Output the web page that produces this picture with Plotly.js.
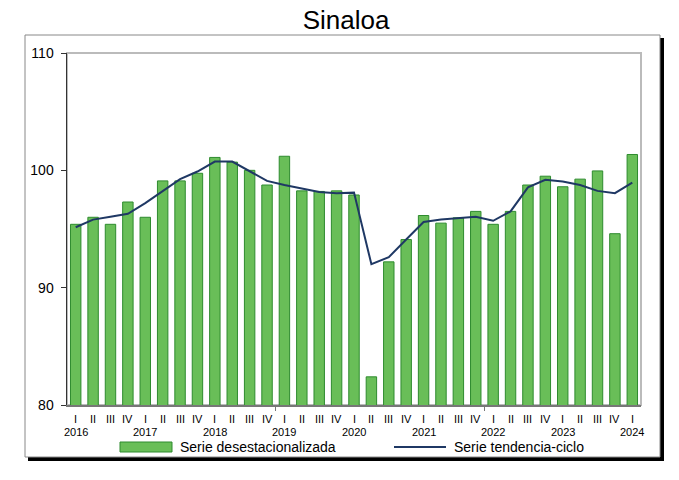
<!DOCTYPE html>
<html>
<head>
<meta charset="utf-8">
<script src="https://cdn.plot.ly/plotly-3.0.1.min.js"></script>
<style>
  html, body { margin: 0; padding: 0; background: #fff; }
  #chart { width: 679px; height: 480px; }
</style>
</head>
<body>
<div id="chart"></div>
<script>
// quarters 2016 I .. 2024 I
var quarters = ["I", "II", "III", "IV", "I", "II", "III", "IV", "I", "II", "III", "IV",
  "I", "II", "III", "IV", "I", "II", "III", "IV", "I", "II", "III", "IV",
  "I", "II", "III", "IV", "I", "II", "III", "IV", "I"];
var years = ["2016", "2017", "2018", "2019", "2020", "2021", "2022", "2023", "2024"];

var desest = [95.4, 96.0, 95.4, 97.3, 96.0, 99.1, 99.1, 99.75, 101.1, 100.7, 100.0, 98.75,
  101.2, 98.25, 98.2, 98.25, 97.9, 82.4, 92.2, 94.1, 96.15, 95.5, 95.95, 96.5,
  95.4, 96.5, 98.75, 99.5, 98.6, 99.25, 99.95, 94.6, 101.35];
var tendencia = [95.15, 95.8, 96.05, 96.3, 97.2, 98.2, 99.25, 99.9, 100.75, 100.75, 99.9, 99.1,
  98.75, 98.45, 98.15, 98.05, 98.1, 92.0, 92.6, 94.1, 95.6, 95.8, 95.95, 96.05,
  95.7, 96.5, 98.55, 99.2, 99.05, 98.75, 98.25, 98.05, 98.95];

var idx = quarters.map(function (q, i) { return i; });

// plot area in pixels: x 67..641, y 53..405
var L = 67, R = 641, T = 53, B = 405;
function px(x) { return (x - L) / (R - L); }
function py(y) { return (B - y) / (B - T); }

var green = "#69be58", greenLine = "#2e8b2e", navy = "#1f3864";

var data = [
  {
    type: "bar",
    x: idx,
    y: desest,
    width: 0.6,
    marker: { color: green, line: { color: greenLine, width: 1 } },
    hoverinfo: "y",
  },
  {
    type: "scatter",
    mode: "lines",
    x: idx,
    y: tendencia,
    line: { color: navy, width: 2 },
    hoverinfo: "y",
  },
];

var annotations = [];
var yi = 0;
quarters.forEach(function (q, i) {
  annotations.push({
    x: i, xref: "x", y: 0, yref: "paper", yshift: -14,
    text: q, showarrow: false, yanchor: "middle",
    font: { family: "Liberation Sans, Arial", size: 11, color: "#000" },
  });
  if (q == "I") {
    annotations.push({
      x: i, xref: "x", y: 0, yref: "paper", yshift: -27,
      text: years[yi], showarrow: false, yanchor: "middle",
      font: { family: "Liberation Sans, Arial", size: 11, color: "#000" },
    });
    yi++;
  }
});
// legend texts
annotations.push({
  x: px(178), xref: "paper", y: py(447), yref: "paper",
  text: "Serie desestacionalizada", showarrow: false,
  xanchor: "left", yanchor: "middle",
  font: { family: "Liberation Sans, Arial", size: 14, color: "#000" },
});
annotations.push({
  x: px(452), xref: "paper", y: py(447), yref: "paper",
  text: "Serie tendencia-ciclo", showarrow: false,
  xanchor: "left", yanchor: "middle",
  font: { family: "Liberation Sans, Arial", size: 14, color: "#000" },
});

var shapes = [
  // frame shadow
  { type: "rect", xref: "paper", yref: "paper", layer: "below",
    x0: px(28), x1: px(664), y0: py(461), y1: py(38),
    fillcolor: "#000", line: { width: 0 } },
  // frame
  { type: "rect", xref: "paper", yref: "paper", layer: "below",
    x0: px(25), x1: px(660), y0: py(457), y1: py(35),
    fillcolor: "#fff", line: { color: "#888", width: 1 } },
  // plot area border (top/right gray)
  { type: "rect", xref: "paper", yref: "paper", layer: "below",
    x0: 0, x1: 1, y0: 0, y1: 1,
    fillcolor: "rgba(0,0,0,0)", line: { color: "#bbbbbb", width: 2 } },
  // legend symbols
  { type: "rect", xref: "paper", yref: "paper",
    x0: px(120), x1: px(172), y0: py(452), y1: py(442),
    fillcolor: green, line: { color: greenLine, width: 1 } },
  { type: "line", xref: "paper", yref: "paper",
    x0: px(394), x1: px(446), y0: py(447), y1: py(447),
    line: { color: navy, width: 2 } },
];

var layout = {
  width: 679,
  height: 480,
  margin: { l: L, r: 679 - R, t: T, b: 480 - B },
  paper_bgcolor: "#fff",
  plot_bgcolor: "rgba(0,0,0,0)",
  showlegend: false,
  bargap: 0,
  font: { family: "Liberation Sans, Arial", color: "#000" },
  title: {
    text: "Sinaloa",
    x: 346 / 679, xref: "container", xanchor: "center",
    y: 1 - 20 / 480, yref: "container", yanchor: "middle",
    font: { family: "Liberation Sans, Arial", size: 26, color: "#000" },
  },
  xaxis: {
    range: [-0.5, 32.5],
    showgrid: false,
    zeroline: false,
    showline: true,
    linecolor: "#777",
    linewidth: 2,
    showticklabels: false,
    ticks: "outside",
    tickmode: "array",
    tickvals: [11.5, 23.5],
    ticklen: 4,
    tickcolor: "#777",
    fixedrange: true,
  },
  yaxis: {
    range: [80, 110],
    dtick: 10,
    tick0: 80,
    showgrid: false,
    zeroline: false,
    showline: true,
    linecolor: "#333",
    linewidth: 1.5,
    ticks: "outside",
    ticklen: 5,
    tickcolor: "#333",
    ticklabelstandoff: 4,
    tickfont: { family: "Liberation Sans, Arial", size: 14, color: "#000" },
    fixedrange: true,
  },
  shapes: shapes,
  annotations: annotations,
};

Plotly.newPlot("chart", data, layout, { displayModeBar: false, staticPlot: true });
</script>
</body>
</html>
